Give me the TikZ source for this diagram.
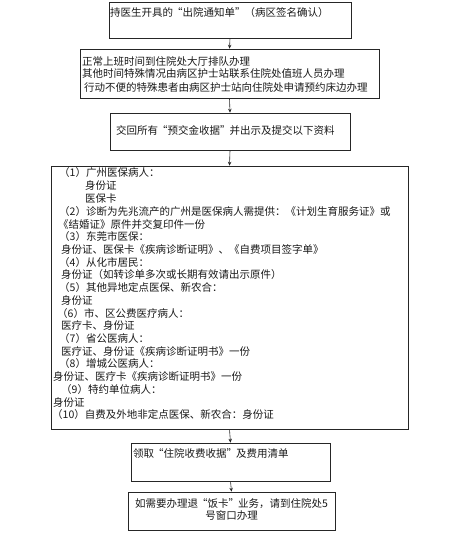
\documentclass[tikz,border=0pt]{standalone}
\usepackage{fontspec}
\setmainfont{Noto Sans CJK SC}
\usetikzlibrary{arrows.meta,fit}
\newcommand\oq{\makebox[0.9em][r]{“}}
\newcommand\cq{\makebox[0.9em][l]{”}}
\begin{document}
\begin{tikzpicture}[x=1pt,y=-1pt,
  box/.style={draw=black!85, line width=0.6pt, inner sep=0pt},
  txt/.style={inner sep=0pt, anchor=west, font=\fontsize{10.5}{12.7}\selectfont, text=black!90},
  arr/.style={-{Stealth[length=4pt,width=3.5pt]}, line width=0.6pt, draw=black!85}]
\useasboundingbox (0,0) rectangle (466,534);
% boxes
\node[box, fit={(109,2) (351,38)}] (b1) {};
\node[box, fit={(80,49) (379,98)}] (b2) {};
\node[box, fit={(110,113) (350,150)}] (b3) {};
\node[box, fit={(51,166) (408,429)}] (b4) {};
\node[box, fit={(131,443) (330,481)}] (b5) {};
\node[box, fit={(128,492) (335,530)}] (b6) {};
% texts
\node[txt] (t1) at (110,13) {持医生开具的\oq 出院通知单\cq（病区签名确认）};
\node[txt] (t2a) at (82,61) {正常上班时间到住院处大厅排队办理};
\node[txt] (t2b) at (82,74) {其他时间特殊情况由病区护士站联系住院处值班人员办理};
\node[txt] (t2c) at (84,87) {行动不便的特殊患者由病区护士站向住院处申请预约床边办理};
\node[txt] (t3) at (116,131) {交回所有\oq 预交金收据\cq 并出示及提交以下资料};
\node[txt] (l1) at (59,173.0) {（1）广州医保病人：};
\node[txt] (l2) at (85,185.7) {身份证};
\node[txt] (l3) at (85,198.5) {医保卡};
\node[txt] (l4) at (59,211.2) {（2）诊断为先兆流产的广州是医保病人需提供：《计划生育服务证》或};
\node[txt] (l5) at (58,224.0) {《结婚证》原件并交复印件一份};
\node[txt] (l6) at (59,236.7) {（3）东莞市医保：};
\node[txt] (l7) at (61,249.4) {身份证、医保卡《疾病诊断证明》、《自费项目签字单》};
\node[txt] (l8) at (59,262.2) {（4）从化市居民：};
\node[txt] (l9) at (61,274.9) {身份证（如转诊单多次或长期有效请出示原件）};
\node[txt] (l10) at (59,287.6) {（5）其他异地定点医保、新农合：};
\node[txt] (l11) at (61,300.4) {身份证};
\node[txt] (l12) at (57,313.1) {（6）市、区公费医疗病人：};
\node[txt] (l13) at (61,325.8) {医疗卡、身份证};
\node[txt] (l14) at (59,338.6) {（7）省公医病人：};
\node[txt] (l15) at (61,351.3) {医疗证、身份证《疾病诊断证明书》一份};
\node[txt] (l16) at (59,364.0) {（8）增城公医病人：};
\node[txt] (l17) at (53,376.8) {身份证、医疗卡《疾病诊断证明书》一份};
\node[txt] (l18) at (61,389.5) {（9）特约单位病人：};
\node[txt] (l19) at (53,402.2) {身份证};
\node[txt] (l20) at (52,415.0) {（10）自费及外地非定点医保、新农合：身份证};
\node[txt] (t5) at (133,453) {领取\oq 住院收费收据\cq 及费用清单};
\node[txt, anchor=center, align=center] (t6) at (231.5,509.5) {如需要办理退\oq 饭卡\cq 业务，请到住院处5\\号窗口办理};
% arrows
\draw[arr] (b1.south) -- (b2.north);
\draw[arr] (b2.south) -- (b3.north);
\draw[arr] (b3.south) -- (b4.north);
\draw[arr] (b4.south) -- (b5.north);
\draw[arr] (b5.south) -- (b6.north);
\end{tikzpicture}
\end{document}
